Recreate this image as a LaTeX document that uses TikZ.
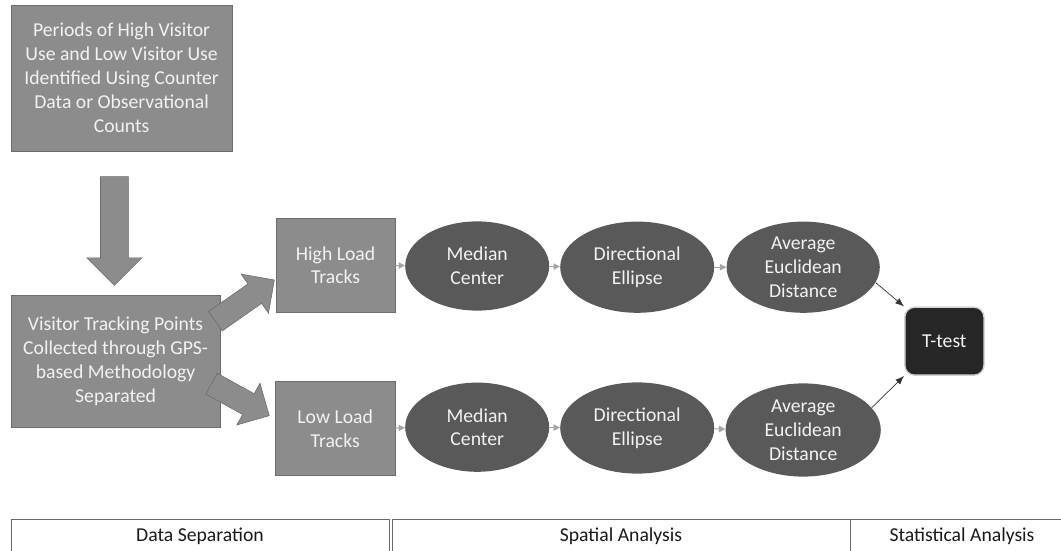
\documentclass[tikz,border=0pt]{standalone}
\usepackage{fontspec}
\setmainfont{Carlito}
\usepackage{xcolor}
\usepackage{tikz}
\usetikzlibrary{
  shapes.geometric, shapes.arrows, arrows.meta, positioning
}
\definecolor{boxgray}{RGB}{140,140,140}
\definecolor{boxedge}{RGB}{108,108,108}
\definecolor{ovalgray}{RGB}{89,89,89}
\definecolor{testdark}{RGB}{38,38,38}
\definecolor{textlight}{RGB}{242,242,242}
\definecolor{linkgray}{RGB}{165,165,165}
\definecolor{tableline}{RGB}{105,105,105}
\tikzset{
  stepbox/.style={
    draw=boxedge, fill=boxgray, text=textlight, align=center,
    font=\fontsize{14}{17}\selectfont, inner sep=0pt
  },
  ovalnode/.style={
    ellipse, fill=ovalgray, text=textlight, align=center,
    font=\fontsize{14}{17}\selectfont, inner sep=0pt
  },
  testbox/.style={
    rectangle, rounded corners=0.25cm, fill=testdark,
    draw=white!82!black, line width=1pt, text=textlight,
    font=\fontsize{14}{17}\selectfont
  },
  fatarrow/.style={
    single arrow, draw=boxedge, fill=boxgray, inner sep=0pt
  },
  linkarrow/.style={
    -{Triangle[length=1.6mm, width=1.6mm]}, color=linkgray, line width=0.7pt
  },
  testarrow/.style={
    -{Latex[length=2.2mm]}, color=black!80, line width=0.5pt
  },
  tablecell/.style={
    draw=tableline, line width=0.7pt, minimum height=0.85cm,
    font=\fontsize{14}{17}\selectfont, text=black!90
  },
}
\begin{document}
\begin{tikzpicture}
  \useasboundingbox (0,0) rectangle (26.525,-13.775);

  % --- Data separation ---
  \node[stepbox, minimum width=5.53cm, minimum height=3.65cm] (periods)
    at (3.04,-1.95)
    {Periods of High Visitor\\
     Use and Low Visitor Use\\
     Identified Using Counter\\
     Data or Observational\\
     Counts};

  \node[stepbox, minimum width=5.23cm, minimum height=3.3cm] (visitor)
    at (2.89,-9.03)
    {Visitor Tracking Points\\
     Collected through GPS-\\
     based Methodology\\
     Separated};

  \node[stepbox, minimum width=2.98cm, minimum height=2.35cm] (highload)
    at (8.39,-6.63) {High Load\\Tracks};
  \node[stepbox, minimum width=2.98cm, minimum height=2.35cm] (lowload)
    at (8.38,-10.71) {Low Load\\Tracks};

  % Fat arrows
  \node[fatarrow, inner ysep=0.34cm, single arrow head extend=0.34cm,
    minimum height=2.72cm, minimum width=1.36cm, rotate=-90]
    (downarrow) at (2.86,-5.6) {};
  \node[fatarrow, inner ysep=0.29cm, single arrow head extend=0.3cm,
    minimum height=1.8cm, minimum width=1.18cm, rotate=35]
    (uparrow) at (6.0,-7.6) {};
  \node[fatarrow, inner ysep=0.29cm, single arrow head extend=0.3cm,
    minimum height=1.65cm, minimum width=1.18cm, rotate=-29]
    (lowarrow) at (5.88,-9.92) {};

  % --- Spatial analysis ---
  \node[ovalnode, minimum width=3.6cm, minimum height=2.23cm] (medhigh)
    at (11.93,-6.65) {Median\\Center};
  \node[ovalnode, minimum width=3.85cm, minimum height=2.28cm] (dirhigh)
    at (15.93,-6.68) {Directional\\Ellipse};
  \node[ovalnode, minimum width=3.83cm, minimum height=2.28cm] (avghigh)
    at (20.08,-6.68) {Average\\Euclidean\\Distance};

  \node[ovalnode, minimum width=3.6cm, minimum height=2.23cm] (medlow)
    at (11.93,-10.68) {Median\\Center};
  \node[ovalnode, minimum width=3.85cm, minimum height=2.28cm] (dirlow)
    at (15.93,-10.7) {Directional\\Ellipse};
  \node[ovalnode, minimum width=3.88cm, minimum height=2.33cm] (avglow)
    at (20.08,-10.75) {Average\\Euclidean\\Distance};

  \draw[linkarrow] (highload) -- (medhigh);
  \draw[linkarrow] (medhigh) -- (dirhigh);
  \draw[linkarrow] (dirhigh) -- (avghigh);
  \draw[linkarrow] (lowload) -- (medlow);
  \draw[linkarrow] (medlow) -- (dirlow);
  \draw[linkarrow] (dirlow) -- (avglow);

  % --- Statistical analysis ---
  \node[testbox, minimum width=1.98cm, minimum height=1.7cm] (ttest)
    at (23.61,-8.53) {T-test};

  \draw[testarrow] (avghigh.-12) -- (ttest.north west);
  \draw[testarrow] (avglow.18) -- (ttest.south west);

  % Phase table
  \node[tablecell, minimum width=9.45cm] (sepcell) at (5.0,-13.4)
    {Data Separation};
  \node[tablecell, minimum width=11.45cm] (spacell) at (15.525,-13.4)
    {Spatial Analysis};
  \node[tablecell, minimum width=5.6cm] (statcell) at (24.05,-13.4)
    {Statistical Analysis};
\end{tikzpicture}
\end{document}
